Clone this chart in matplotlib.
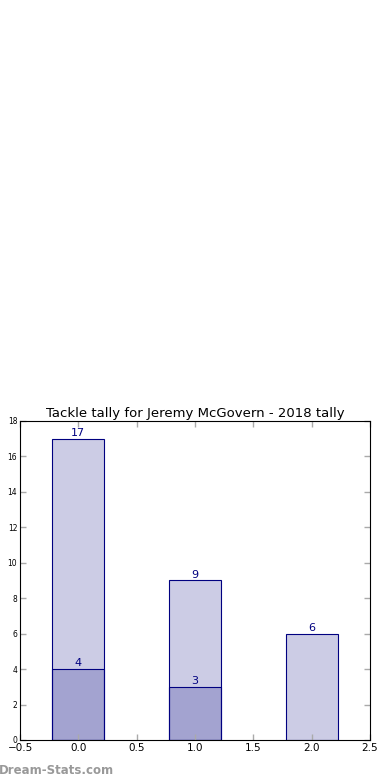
import matplotlib
matplotlib.use("Agg")
import matplotlib.pyplot as plt

# data
positions = [0, 1, 2]
totals = [17, 9, 6]
solo_pos = [0, 1]
solo = [4, 3]

title = "Tackle tally for Jeremy McGovern - 2018 tally"

fig = plt.figure(figsize=(3.9, 7.8), dpi=100)
ax = fig.add_axes([0.0513, 0.0513, 0.8974, 0.409])

ax.bar(positions, totals, width=0.445, color="navy", alpha=0.2)
ax.bar(positions, totals, width=0.445, color="none", edgecolor="navy", linewidth=0.8)
ax.bar(solo_pos, solo, width=0.445, color="navy", alpha=0.2)
ax.bar(solo_pos, solo, width=0.445, color="none", edgecolor="navy", linewidth=0.8)

for x, v in zip(positions, totals):
    ax.text(x, v + 0.05, str(v), ha="center", va="bottom", color="navy", fontsize=8)
for x, v in zip(solo_pos, solo):
    ax.text(x, v + 0.05, str(v), ha="center", va="bottom", color="navy", fontsize=8)

ax.set_xlim(-0.5, 2.5)
ax.set_ylim(0, 18)
ax.set_xticks([-0.5, 0.0, 0.5, 1.0, 1.5, 2.0, 2.5])
ax.set_yticks(range(0, 19, 2))
ax.tick_params(direction="in", top=True, right=True, length=4, color="#aaaaaa", width=1)
ax.tick_params(axis="x", labelsize=7.5, pad=2)
ax.tick_params(axis="y", labelsize=5.5, pad=2)
ax.set_title(title, fontsize=9.5, pad=3)

fig.text(-0.003, 0.004, "Dream-Stats.com", color="#999999", fontsize=8.5, fontweight="bold",
         ha="left", va="bottom")

fig.savefig("out.png", dpi=100)
